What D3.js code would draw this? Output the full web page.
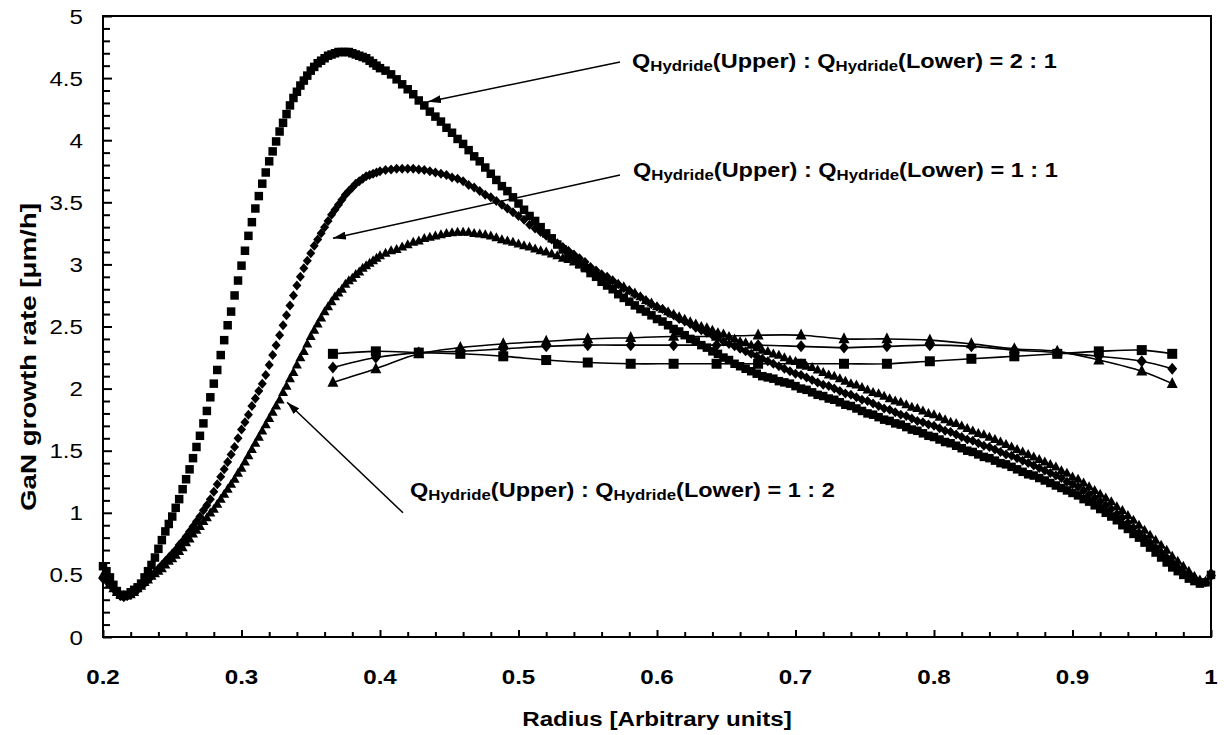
<!DOCTYPE html>
<meta charset="utf-8">
<script src="https://d3js.org/d3.v7.min.js"></script>
<style>
  body { margin: 0; background: #fff; }
  text { font-family: Arial, "Liberation Sans", sans-serif; fill: #000; }
</style>
<div id="chart"></div>
<script>

// radius positions of the dense (simulated) profiles
const radius = [
  0.2000,0.2025,0.2050,0.2075,0.2100,0.2125,0.2150,0.2175,0.2200,0.2225,
  0.2250,0.2275,0.2300,0.2325,0.2350,0.2375,0.2400,0.2425,0.2450,0.2475,
  0.2500,0.2525,0.2550,0.2575,0.2600,0.2625,0.2650,0.2675,0.2700,0.2725,
  0.2750,0.2775,0.2800,0.2825,0.2850,0.2875,0.2900,0.2925,0.2950,0.2975,
  0.3000,0.3025,0.3050,0.3075,0.3100,0.3125,0.3150,0.3175,0.3200,0.3225,
  0.3250,0.3275,0.3300,0.3325,0.3350,0.3375,0.3400,0.3425,0.3450,0.3475,
  0.3500,0.3525,0.3550,0.3575,0.3600,0.3625,0.3650,0.3675,0.3700,0.3725,
  0.3750,0.3775,0.3800,0.3825,0.3850,0.3875,0.3900,0.3925,0.3950,0.3975,
  0.4000,
  0.404,0.408,0.412,0.416,0.420,0.424,0.428,0.432,0.436,0.440,
  0.444,0.448,0.452,0.456,0.460,0.464,0.468,0.472,0.476,0.480,
  0.484,0.488,0.492,0.496,0.500,0.504,0.508,0.512,0.516,0.520,
  0.524,0.528,0.532,0.536,0.540,0.544,0.548,0.552,0.556,0.560,
  0.564,0.568,0.572,0.576,0.580,0.584,0.588,0.592,0.596,0.600,
  0.604,0.608,0.612,0.616,0.620,0.624,0.628,0.632,0.636,0.640,
  0.644,0.648,0.652,0.656,0.660,0.664,0.668,0.672,0.676,0.680,
  0.684,0.688,0.692,0.696,0.700,0.704,0.708,0.712,0.716,0.720,
  0.724,0.728,0.732,0.736,0.740,0.744,0.748,0.752,0.756,0.760,
  0.764,0.768,0.772,0.776,0.780,0.784,0.788,0.792,0.796,0.800,
  0.804,0.808,0.812,0.816,0.820,0.824,0.828,0.832,0.836,0.840,
  0.844,0.848,0.852,0.856,0.860,0.864,0.868,0.872,0.876,0.880,
  0.884,0.888,0.892,0.896,0.900,0.904,0.908,0.912,0.916,0.920,
  0.924,0.928,0.932,0.936,0.940,0.944,0.948,0.952,0.956,0.960,
  0.964,0.968,0.972,0.976,0.980,0.984,0.988,0.992,0.996,1.000
];

// Q(Upper) : Q(Lower) = 2 : 1  (squares)
const rate21 = [
  0.57,0.53,0.48,0.42,0.37,0.34,0.33,0.34,0.36,0.38,
  0.40,0.43,0.48,0.53,0.58,0.64,0.71,0.78,0.85,0.91,
  0.97,1.04,1.11,1.19,1.27,1.35,1.44,1.53,1.62,1.72,
  1.82,1.93,2.04,2.15,2.27,2.39,2.51,2.62,2.75,2.87,
  2.99,3.11,3.23,3.34,3.45,3.55,3.65,3.74,3.83,3.91,
  3.99,4.07,4.14,4.21,4.28,4.34,4.39,4.44,4.48,4.52,
  4.56,4.59,4.62,4.64,4.66,4.68,4.69,4.70,4.71,4.71,
  4.71,4.71,4.70,4.69,4.68,4.67,4.66,4.64,4.62,4.60,
  4.58,
  4.56,4.53,4.49,4.45,4.41,4.37,4.32,4.28,4.23,4.19,
  4.15,4.10,4.06,4.01,3.97,3.92,3.87,3.83,3.78,3.73,
  3.68,3.63,3.59,3.54,3.49,3.44,3.39,3.35,3.30,3.25,
  3.21,3.16,3.12,3.08,3.04,3.00,2.97,2.93,2.90,2.86,
  2.83,2.80,2.76,2.73,2.70,2.67,2.64,2.62,2.59,2.56,
  2.54,2.51,2.48,2.46,2.43,2.40,2.38,2.35,2.33,2.30,
  2.28,2.25,2.23,2.20,2.18,2.16,2.14,2.12,2.10,2.09,
  2.08,2.06,2.05,2.04,2.02,2.00,1.99,1.97,1.95,1.94,
  1.92,1.91,1.89,1.87,1.86,1.84,1.82,1.80,1.79,1.77,
  1.75,1.74,1.72,1.71,1.69,1.67,1.66,1.64,1.62,1.61,
  1.59,1.57,1.56,1.54,1.52,1.50,1.49,1.47,1.45,1.44,
  1.42,1.40,1.39,1.37,1.35,1.33,1.31,1.30,1.28,1.26,
  1.24,1.22,1.20,1.18,1.16,1.14,1.11,1.09,1.06,1.03,
  1.00,0.97,0.94,0.90,0.87,0.83,0.80,0.76,0.72,0.68,
  0.64,0.60,0.56,0.53,0.50,0.47,0.45,0.43,0.44,0.50
];

// Q(Upper) : Q(Lower) = 1 : 1  (diamonds)
const rate11 = [
  0.47,0.45,0.42,0.39,0.36,0.33,0.32,0.33,0.34,0.36,
  0.38,0.41,0.43,0.46,0.49,0.52,0.55,0.58,0.61,0.64,
  0.67,0.70,0.74,0.77,0.81,0.85,0.89,0.93,0.97,1.02,
  1.06,1.11,1.17,1.23,1.29,1.35,1.41,1.47,1.53,1.60,
  1.67,1.73,1.79,1.86,1.92,1.98,2.04,2.11,2.19,2.27,
  2.35,2.43,2.51,2.59,2.67,2.75,2.83,2.90,2.97,3.03,
  3.09,3.15,3.20,3.25,3.30,3.35,3.40,3.44,3.48,3.52,
  3.56,3.59,3.62,3.65,3.67,3.69,3.71,3.72,3.73,3.74,
  3.75,
  3.76,3.765,3.77,3.77,3.77,3.77,3.765,3.76,3.75,3.74,
  3.73,3.72,3.70,3.69,3.67,3.64,3.62,3.59,3.56,3.54,
  3.51,3.48,3.45,3.42,3.39,3.36,3.32,3.29,3.26,3.23,
  3.20,3.17,3.14,3.11,3.08,3.05,3.02,2.98,2.95,2.92,
  2.90,2.87,2.84,2.81,2.79,2.76,2.74,2.71,2.68,2.66,
  2.64,2.61,2.59,2.56,2.54,2.52,2.49,2.47,2.45,2.43,
  2.41,2.38,2.36,2.34,2.32,2.30,2.28,2.26,2.24,2.22,
  2.20,2.18,2.16,2.14,2.12,2.11,2.09,2.07,2.05,2.03,
  2.02,2.00,1.98,1.96,1.95,1.93,1.91,1.90,1.88,1.86,
  1.84,1.83,1.81,1.79,1.78,1.76,1.74,1.73,1.71,1.70,
  1.68,1.66,1.65,1.63,1.61,1.59,1.58,1.56,1.54,1.53,
  1.51,1.49,1.47,1.46,1.44,1.42,1.40,1.38,1.36,1.34,
  1.32,1.30,1.28,1.25,1.23,1.21,1.18,1.15,1.12,1.09,
  1.06,1.03,0.99,0.96,0.92,0.88,0.84,0.80,0.76,0.72,
  0.68,0.64,0.60,0.56,0.52,0.49,0.46,0.44,0.44,0.49
];

// Q(Upper) : Q(Lower) = 1 : 2  (triangles)
const rate12 = [
  0.50,0.47,0.43,0.39,0.36,0.34,0.33,0.33,0.34,0.36,
  0.39,0.41,0.44,0.46,0.49,0.51,0.53,0.55,0.58,0.61,
  0.63,0.66,0.69,0.72,0.76,0.79,0.83,0.86,0.89,0.93,
  0.96,1.00,1.03,1.07,1.11,1.15,1.19,1.23,1.27,1.32,
  1.36,1.41,1.46,1.51,1.56,1.61,1.66,1.71,1.76,1.81,
  1.86,1.91,1.97,2.02,2.08,2.13,2.19,2.25,2.30,2.36,
  2.42,2.47,2.52,2.57,2.62,2.66,2.70,2.74,2.77,2.80,
  2.84,2.87,2.89,2.92,2.94,2.97,2.99,3.01,3.03,3.05,
  3.07,
  3.09,3.11,3.12,3.14,3.16,3.18,3.19,3.21,3.22,3.23,
  3.24,3.25,3.255,3.26,3.26,3.26,3.25,3.245,3.24,3.23,
  3.215,3.20,3.19,3.18,3.165,3.15,3.14,3.125,3.11,3.10,
  3.085,3.07,3.05,3.04,3.02,3.00,2.98,2.96,2.94,2.91,
  2.89,2.87,2.84,2.82,2.79,2.77,2.74,2.71,2.69,2.66,
  2.64,2.62,2.60,2.58,2.56,2.54,2.52,2.50,2.49,2.47,
  2.45,2.44,2.42,2.40,2.38,2.37,2.35,2.33,2.31,2.30,
  2.28,2.27,2.25,2.23,2.22,2.20,2.18,2.17,2.15,2.13,
  2.11,2.10,2.08,2.06,2.04,2.03,2.01,1.99,1.97,1.96,
  1.94,1.92,1.90,1.89,1.87,1.85,1.84,1.82,1.80,1.79,
  1.77,1.75,1.73,1.72,1.70,1.68,1.66,1.64,1.63,1.61,
  1.59,1.57,1.55,1.53,1.51,1.49,1.47,1.45,1.43,1.41,
  1.39,1.37,1.34,1.32,1.29,1.27,1.24,1.21,1.18,1.15,
  1.12,1.09,1.05,1.02,0.98,0.94,0.90,0.86,0.82,0.78,
  0.74,0.70,0.65,0.61,0.57,0.53,0.49,0.46,0.45,0.52
];

// measured profiles (sparse markers joined by smoothed lines)
const sparseRadius = [0.366,0.397,0.428,0.458,0.489,0.520,0.550,0.581,0.612,0.643,0.673,
                      0.704,0.735,0.766,0.797,0.827,0.858,0.889,0.919,0.950,0.972];
const meas21 = [2.28,2.30,2.29,2.28,2.26,2.23,2.21,2.20,2.20,2.20,2.20,
                2.20,2.20,2.20,2.22,2.24,2.26,2.28,2.30,2.31,2.28];
const meas11 = [2.17,2.25,2.29,2.30,2.32,2.34,2.35,2.35,2.35,2.35,2.35,
                2.34,2.33,2.34,2.35,2.34,2.31,2.29,2.26,2.22,2.16];
const meas12 = [2.05,2.16,2.28,2.33,2.36,2.38,2.40,2.41,2.42,2.42,2.43,
                2.43,2.40,2.40,2.39,2.36,2.32,2.30,2.23,2.14,2.04];

const xTickValues = [0.2,0.3,0.4,0.5,0.6,0.7,0.8,0.9,1];
const xTickLabels = ["0.2","0.3","0.4","0.5","0.6","0.7","0.8","0.9","1"];
const yTickValues = [0,0.5,1,1.5,2,2.5,3,3.5,4,4.5,5];
const yTickLabels = ["0","0.5","1","1.5","2","2.5","3","3.5","4","4.5","5"];
const ratioLabels = ["2 : 1","1 : 1","1 : 2"];

// annotation anchors in data units: label baseline start, arrow start, arrow tip
const notes = [
  {text: ratioLabels[0], at: [0.582, 4.58], from: [0.5733, 4.63], to: [0.4347, 4.31]},
  {text: ratioLabels[1], at: [0.5827, 3.70], from: [0.5733, 3.72], to: [0.366, 3.21]},
  {text: ratioLabels[2], at: [0.4217, 1.127], from: [0.4166, 1.00], to: [0.3329, 1.89]}
];

const width = 1224, height = 735;
const plot = {left: 103, right: 1211, top: 16, bottom: 637};
const stretch = 1.15; // the original picture is wider than it is tall

const svg = d3.select("#chart")
  .append("svg")
    .attr("width", width)
    .attr("height", height);

const x = d3.scaleLinear().domain([0.2, 1]).range([plot.left, plot.right]);
const y = d3.scaleLinear().domain([0, 5]).range([plot.bottom, plot.top]);

// marker shapes
const square = s => `M${-s/2},${-s/2}h${s}v${s}h${-s}Z`;
const diamond = (w, h) => `M0,${-h/2}L${w/2},0L0,${h/2}L${-w/2},0Z`;
const triangle = (w, h) => `M0,${-h*0.6}L${w/2},${h*0.4}L${-w/2},${h*0.4}Z`;

// minor + major ticks, pointing inward
const xMinor = d3.range(11, 50).map(i => i / 50).filter(v => Math.round(v * 50) % 5 !== 0);
const yMinor = d3.range(1, 50).map(i => i / 10).filter(v => Math.round(v * 10) % 5 !== 0);

function tickAxis(axis, pos, values, size) {
  const g = svg.append("g")
    .attr("transform", pos)
    .call(axis.tickValues(values).tickSizeInner(-size).tickSizeOuter(0).tickFormat(""));
  g.select(".domain").remove();
  g.selectAll("line").attr("stroke", "#000").attr("stroke-width", 2);
}
tickAxis(d3.axisBottom(x), `translate(0,${plot.bottom})`, xMinor, 5);
tickAxis(d3.axisBottom(x), `translate(0,${plot.bottom})`, xTickValues, 7);
tickAxis(d3.axisLeft(y), `translate(${plot.left},0)`, yMinor, 7);
tickAxis(d3.axisLeft(y), `translate(${plot.left},0)`, yTickValues, 9);

// plot frame
svg.append("rect")
  .attr("x", plot.left).attr("y", plot.top)
  .attr("width", plot.right - plot.left).attr("height", plot.bottom - plot.top)
  .attr("fill", "none").attr("stroke", "#000").attr("stroke-width", 2);

// tick labels
svg.append("g").selectAll("text")
  .data(xTickValues)
  .join("text")
    .attr("transform", d => `translate(${x(d)},684) scale(${stretch},1)`)
    .attr("text-anchor", "middle")
    .attr("font-size", 21)
    .attr("font-weight", "bold")
    .text((d, i) => xTickLabels[i]);

svg.append("g").selectAll("text")
  .data(yTickValues)
  .join("text")
    .attr("transform", d => `translate(83,${y(d) + 7.5}) scale(${stretch},1)`)
    .attr("text-anchor", "end")
    .attr("font-size", 21)
    .text((d, i) => yTickLabels[i]);

// axis titles
svg.append("text")
  .attr("transform", `translate(657,726) scale(${stretch},1)`)
  .attr("text-anchor", "middle")
  .attr("font-size", 21)
  .attr("font-weight", "bold")
  .text("Radius [Arbitrary units]");

svg.append("text")
  .attr("transform", "translate(36,357) rotate(-90)")
  .attr("text-anchor", "middle")
  .attr("font-size", 22)
  .attr("font-weight", "bold")
  .attr("textLength", 308)
  .attr("lengthAdjust", "spacingAndGlyphs")
  .text("GaN growth rate [\u03bcm/h]");

// dense profiles
const dense = [
  {values: rate21, shape: square(8.5)},
  {values: rate11, shape: diamond(9, 10)},
  {values: rate12, shape: triangle(10, 9)}
];
dense.forEach(s => {
  svg.append("g").selectAll("path")
    .data(radius)
    .join("path")
      .attr("d", s.shape)
      .attr("transform", (r, i) => `translate(${x(r)},${y(s.values[i])})`)
      .attr("fill", "#000");
});

// measured profiles
const line = d3.line()
  .x(d => x(d[0]))
  .y(d => y(d[1]))
  .curve(d3.curveCatmullRom.alpha(0.5));
const measured = [
  {values: meas21, shape: square(10)},
  {values: meas11, shape: diamond(10, 12)},
  {values: meas12, shape: triangle(11, 11)}
];
measured.forEach(s => {
  const pts = sparseRadius.map((r, i) => [r, s.values[i]]);
  svg.append("path")
    .datum(pts)
    .attr("d", line)
    .attr("fill", "none")
    .attr("stroke", "#000")
    .attr("stroke-width", 1.6);
  svg.append("g").selectAll("path")
    .data(pts)
    .join("path")
      .attr("d", s.shape)
      .attr("transform", d => `translate(${x(d[0])},${y(d[1])})`)
      .attr("fill", "#000");
});

// annotations
svg.append("defs").append("marker")
  .attr("id", "head")
  .attr("viewBox", "0 0 13 8")
  .attr("refX", 13).attr("refY", 4)
  .attr("markerWidth", 13).attr("markerHeight", 8)
  .attr("markerUnits", "userSpaceOnUse")
  .attr("orient", "auto")
  .append("path")
    .attr("d", "M0,0L13,4L0,8Z")
    .attr("fill", "#000");

notes.forEach(n => {
  svg.append("line")
    .attr("x1", x(n.from[0])).attr("y1", y(n.from[1]))
    .attr("x2", x(n.to[0])).attr("y2", y(n.to[1]))
    .attr("stroke", "#000")
    .attr("stroke-width", 1.5)
    .attr("marker-end", "url(#head)");

  const t = svg.append("text")
    .attr("transform", `translate(${x(n.at[0])},${y(n.at[1])}) scale(1.12,1)`)
    .attr("font-weight", "bold");
  t.append("tspan").attr("font-size", 21).text("Q");
  t.append("tspan").attr("font-size", 15).attr("dy", 3).text("Hydride");
  t.append("tspan").attr("font-size", 21).attr("dy", -3).text("(Upper) : Q");
  t.append("tspan").attr("font-size", 15).attr("dy", 3).text("Hydride");
  t.append("tspan").attr("font-size", 21).attr("dy", -3).text("(Lower) = " + n.text);
});

</script>
